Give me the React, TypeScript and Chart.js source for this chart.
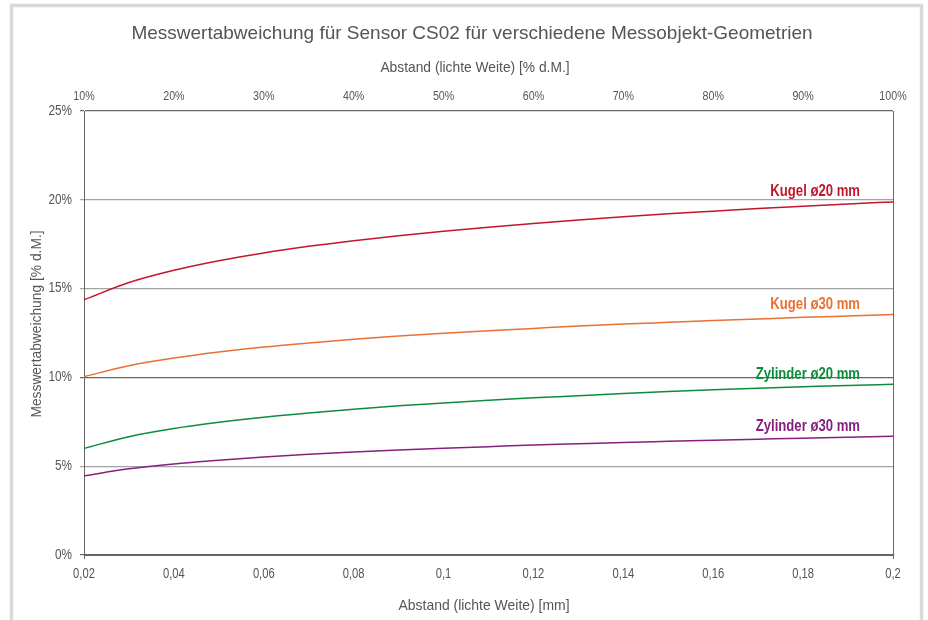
import { useRef, useEffect } from "react";
import { Chart, registerables } from "chart.js";

Chart.register(...registerables);

// Abstand (lichte Weite) in mm
const distances = [
  0.02, 0.03, 0.04, 0.05, 0.06, 0.07, 0.08, 0.09, 0.1, 0.11,
  0.12, 0.13, 0.14, 0.15, 0.16, 0.17, 0.18, 0.19, 0.2,
];

// Messwertabweichung in % d.M.
const kugel20 = [
  14.37, 15.34, 16.03, 16.57, 17.01, 17.38, 17.7, 17.98, 18.23, 18.46,
  18.67, 18.86, 19.04, 19.21, 19.36, 19.51, 19.64, 19.77, 19.88,
];
const kugel30 = [
  10.04, 10.66, 11.09, 11.43, 11.71, 11.94, 12.15, 12.33, 12.49, 12.63,
  12.76, 12.89, 13.0, 13.1, 13.2, 13.29, 13.38, 13.46, 13.54,
];
const zylinder20 = [
  6.0, 6.66, 7.12, 7.47, 7.76, 8.0, 8.21, 8.4, 8.56, 8.71,
  8.85, 8.97, 9.09, 9.2, 9.3, 9.39, 9.47, 9.55, 9.61,
];
const zylinder30 = [
  4.46, 4.85, 5.13, 5.34, 5.52, 5.67, 5.8, 5.91, 6.01, 6.1,
  6.19, 6.26, 6.34, 6.4, 6.46, 6.52, 6.58, 6.63, 6.68,
];

const seriesNames = ["Kugel ø20 mm", "Kugel ø30 mm", "Zylinder ø20 mm", "Zylinder ø30 mm"];
const seriesValues = [kugel20, kugel30, zylinder20, zylinder30];
const seriesColors = ["#c4162a", "#ea7034", "#0d8c3c", "#86207f"];

const chartTitle = "Messwertabweichung für Sensor CS02 für verschiedene Messobjekt-Geometrien";
const xTitle = "Abstand (lichte Weite) [mm]";
const x2Title = "Abstand (lichte Weite) [% d.M.]";
const yTitle = "Messwertabweichung [% d.M.]";

const TEXT = "#555555";
const SANS = "'Liberation Sans', Arial, sans-serif";

const fmtComma = (v: number) => String(Number(v.toFixed(2))).replace(".", ",");

// no condensed font installed, so squeeze the glyphs horizontally
function drawText(
  ctx: CanvasRenderingContext2D,
  text: string,
  x: number,
  y: number,
  font: string,
  color: string,
  align: CanvasTextAlign,
  sx = 1,
  rotate = 0
) {
  ctx.save();
  ctx.translate(x, y);
  if (rotate) ctx.rotate(rotate);
  ctx.scale(sx, 1);
  ctx.font = font;
  ctx.fillStyle = color;
  ctx.textAlign = align;
  ctx.textBaseline = "middle";
  ctx.fillText(text, 0, 0);
  ctx.restore();
}

const decorPlugin = {
  id: "decor",
  beforeDraw(chart: Chart) {
    const { ctx } = chart;
    ctx.save();
    ctx.fillStyle = "#ffffff";
    ctx.fillRect(0, 0, chart.width, chart.height);
    ctx.strokeStyle = "#d9d9d9";
    ctx.lineWidth = 3.5;
    ctx.strokeRect(11.5, 5.5, 910, 700);
    ctx.restore();
  },
  afterDraw(chart: Chart) {
    const { ctx, chartArea, scales } = chart;
    const tickFont = `14px ${SANS}`;

    drawText(ctx, chartTitle, 472, 34, `19px ${SANS}`, TEXT, "center");

    scales.y.ticks.forEach((t) => {
      drawText(ctx, `${t.value}%`, chartArea.left - 12, scales.y.getPixelForValue(t.value), tickFont, TEXT, "right", 0.84);
    });
    scales.x.ticks.forEach((t) => {
      drawText(ctx, fmtComma(t.value), scales.x.getPixelForValue(t.value), chartArea.bottom + 19, tickFont, TEXT, "center", 0.8);
    });
    scales.x2.ticks.forEach((t) => {
      drawText(ctx, `${t.value}%`, scales.x2.getPixelForValue(t.value), chartArea.top - 15, `13px ${SANS}`, TEXT, "center", 0.82);
    });

    drawText(ctx, x2Title, 475, chartArea.top - 43, `15px ${SANS}`, TEXT, "center", 0.92);
    drawText(ctx, xTitle, 484, chartArea.bottom + 51, `15px ${SANS}`, TEXT, "center", 0.93);
    drawText(ctx, yTitle, 37, 324, `15px ${SANS}`, TEXT, "center", 0.92, -Math.PI / 2);

    // series names above the line ends
    chart.data.datasets.forEach((ds, i) => {
      const meta = chart.getDatasetMeta(i);
      const last = meta.data[meta.data.length - 1];
      if (!last) return;
      drawText(ctx, String(ds.label), chartArea.right - 33, last.y - 10, `bold 16px ${SANS}`, seriesColors[i], "right", 0.82);
    });
  },
};

export default function App() {
  const canvasRef = useRef<HTMLCanvasElement>(null);
  const chartRef = useRef<Chart | null>(null);

  useEffect(() => {
    if (!canvasRef.current) return;
    if (chartRef.current) chartRef.current.destroy();

    chartRef.current = new Chart(canvasRef.current, {
      type: "line",
      data: {
        datasets: seriesNames.map((name, i) => ({
          label: name,
          data: distances.map((x, j) => ({ x, y: seriesValues[i][j] })),
          borderColor: seriesColors[i],
          borderWidth: 1.5,
          pointRadius: 0,
          fill: false,
          cubicInterpolationMode: "monotone" as const,
        })),
      },
      options: {
        responsive: true,
        maintainAspectRatio: false,
        animation: false,
        layout: { padding: { left: 0, right: 35, top: 0, bottom: 0 } },
        plugins: {
          legend: { display: false },
          title: { display: false },
          tooltip: { enabled: false },
        },
        scales: {
          x: {
            type: "linear",
            position: "bottom",
            min: 0.02,
            max: 0.2,
            afterFit: (s: any) => {
              s.height = 65;
            },
            ticks: { stepSize: 0.02, display: false },
            grid: {
              tickLength: 4,
              color: (c: any) =>
                c.tick && (Math.abs(c.tick.value - 0.2) < 1e-6 || Math.abs(c.tick.value - 0.02) < 1e-6)
                  ? "#666666"
                  : "rgba(0,0,0,0)",
            },
            border: { display: true, color: "#666666", width: 1 },
          },
          x2: {
            type: "linear",
            position: "top",
            min: 10,
            max: 100,
            afterFit: (s: any) => {
              s.height = 111;
            },
            ticks: { stepSize: 10, display: false },
            grid: { display: false, drawTicks: false },
            border: { display: false },
          },
          y: {
            type: "linear",
            position: "left",
            min: 0,
            max: 25,
            afterFit: (s: any) => {
              s.width = 84;
            },
            ticks: { stepSize: 5, display: false },
            grid: {
              tickLength: 4,
              color: (c: any) =>
                c.tick && (c.tick.value === 10 || c.tick.value === 25 || c.tick.value === 0)
                  ? "#666666"
                  : "#a3a3a3",
              lineWidth: 1.2,
            },
            border: { display: true, color: "#666666", width: 1 },
          },
        },
      },
      plugins: [decorPlugin],
    });

    return () => {
      if (chartRef.current) {
        chartRef.current.destroy();
        chartRef.current = null;
      }
    };
  }, []);

  return (
    <div style={{ position: "absolute", left: 0, top: 0, width: 928, height: 620 }}>
      <canvas ref={canvasRef} />
    </div>
  );
}
